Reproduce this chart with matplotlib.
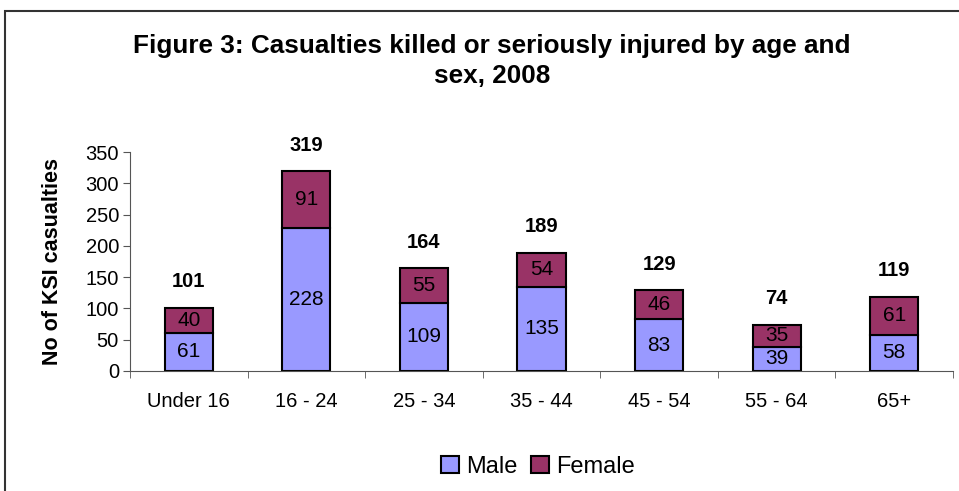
import numpy as np
import matplotlib.pyplot as plt
from matplotlib.patches import Rectangle

plt.rcParams['font.family'] = ['Liberation Sans', 'DejaVu Sans']

ages = ['Under 16', '16 - 24', '25 - 34', '35 - 44', '45 - 54', '55 - 64', '65+']
male = [61, 228, 109, 135, 83, 39, 58]
female = [40, 91, 55, 54, 46, 35, 61]
totals = [101, 319, 164, 189, 129, 74, 119]

male_col = '#9999FF'
female_col = '#993366'

fig = plt.figure(figsize=(9.59, 4.91), dpi=100)
ax = fig.add_axes([130 / 959, 1 - 371 / 491, 823 / 959, 219 / 491])

x = np.arange(len(ages))
w = 0.41
b1 = ax.bar(x, male, w, color=male_col, edgecolor='black', linewidth=1.5, label='Male')
b2 = ax.bar(x, female, w, bottom=male, color=female_col, edgecolor='black', linewidth=1.5, label='Female')

for i in range(len(ages)):
    ax.text(x[i], male[i] / 2, str(male[i]), ha='center', va='center', fontsize=15)
    ax.text(x[i], male[i] + female[i] / 2, str(female[i]), ha='center', va='center', fontsize=15)
    ax.text(x[i], totals[i] + 42, str(totals[i]), ha='center', va='center', fontsize=14.5, fontweight='bold')

ax.set_xlim(-0.5, len(ages) - 0.5)
ax.set_ylim(0, 350)
ax.set_yticks(range(0, 351, 50))
ax.set_xticks(x)
ax.set_xticklabels(ages)
ax.set_xticks(np.arange(-0.5, len(ages), 1), minor=True)
ax.tick_params(axis='x', which='major', length=0, pad=15, labelsize=14.5)
ax.tick_params(axis='x', which='minor', length=5, direction='out', color='#555555')
ax.tick_params(axis='y', length=5, direction='out', color='#555555', labelsize=14.5, pad=3)
for s in ['top', 'right']:
    ax.spines[s].set_visible(False)
for s in ['left', 'bottom']:
    ax.spines[s].set_color('#555555')
ax.set_ylabel('No of KSI casualties', fontsize=15.5, fontweight='bold', labelpad=16)

fig.text(492 / 959, 1 - 61 / 491, 'Figure 3: Casualties killed or seriously injured by age and\nsex, 2008',
         ha='center', va='center', fontsize=18.8, fontweight='bold', linespacing=1.3)

fig.legend(handles=[b1, b2], labels=['Male', 'Female'], loc='center', bbox_to_anchor=(538 / 959, 1 - 467 / 491),
           ncol=2, frameon=False, fontsize=17, handlelength=0.75, handleheight=0.75, handletextpad=0.3, columnspacing=0.6)

fig.patches.append(Rectangle((5 / 959, -0.1), 1.2, 1 - 11 / 491 + 0.1, transform=fig.transFigure,
                             fill=False, edgecolor='#333333', linewidth=1.5))

fig.savefig('out.png', dpi=100)
